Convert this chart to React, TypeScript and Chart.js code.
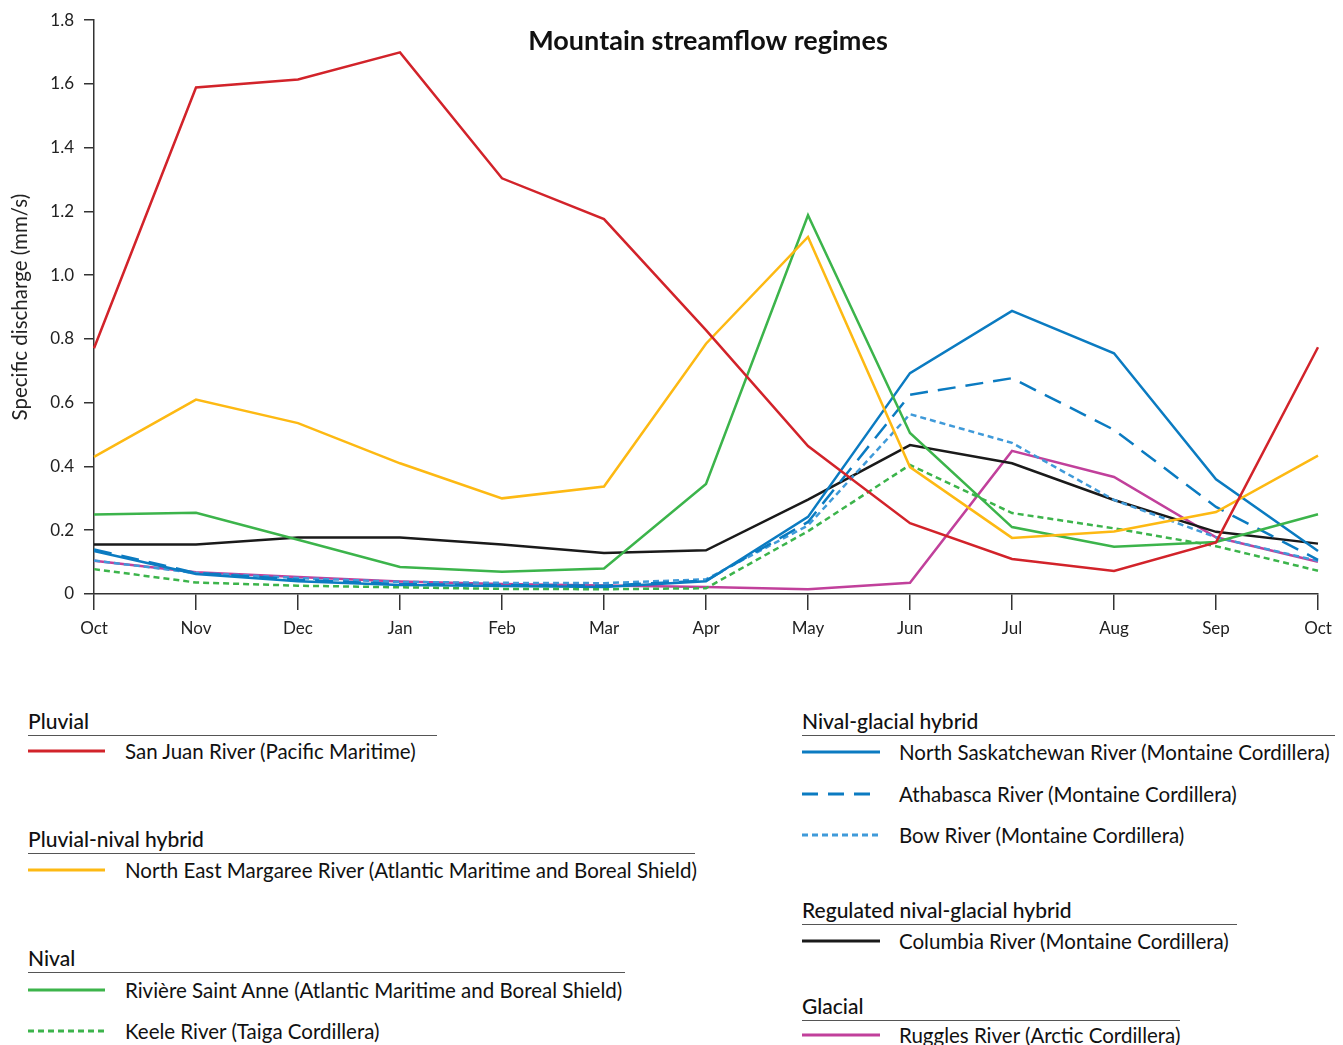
import React, { useEffect, useRef } from "react";
import { Chart, registerables } from "chart.js";
Chart.register(...registerables);

const FONT = "Lato, 'Noto Sans', sans-serif";

const months = ["Oct", "Nov", "Dec", "Jan", "Feb", "Mar", "Apr", "May", "Jun", "Jul", "Aug", "Sep", "Oct"];
const yTicks = [0, 0.2, 0.4, 0.6, 0.8, 1.0, 1.2, 1.4, 1.6, 1.8];

const sanJuan = [0.771, 1.589, 1.614, 1.699, 1.304, 1.176, 0.828, 0.464, 0.222, 0.11, 0.072, 0.162, 0.774];
const margaree = [0.43, 0.61, 0.536, 0.41, 0.3, 0.337, 0.785, 1.12, 0.398, 0.176, 0.196, 0.257, 0.434];
const stAnne = [0.249, 0.255, 0.17, 0.085, 0.07, 0.08, 0.345, 1.188, 0.505, 0.21, 0.148, 0.163, 0.25];
const keele = [0.078, 0.036, 0.026, 0.021, 0.016, 0.015, 0.018, 0.197, 0.405, 0.254, 0.206, 0.15, 0.073];
const northSask = [0.135, 0.063, 0.04, 0.028, 0.025, 0.022, 0.04, 0.242, 0.693, 0.888, 0.755, 0.36, 0.135];
const athabasca = [0.14, 0.066, 0.045, 0.031, 0.028, 0.026, 0.042, 0.226, 0.625, 0.677, 0.515, 0.273, 0.107];
const bow = [0.105, 0.066, 0.05, 0.038, 0.035, 0.034, 0.046, 0.215, 0.564, 0.474, 0.295, 0.178, 0.104];
const columbia = [0.155, 0.155, 0.177, 0.177, 0.155, 0.129, 0.137, 0.296, 0.467, 0.41, 0.295, 0.195, 0.158];
const ruggles = [0.104, 0.068, 0.053, 0.039, 0.031, 0.027, 0.022, 0.015, 0.035, 0.449, 0.367, 0.178, 0.101];

const RED = "#d2232a";
const YELLOW = "#fdb913";
const GREEN = "#3cb44b";
const BLUE = "#0b7bc1";
const LBLUE = "#3f9ad9";
const BLACK = "#1a1a1a";
const MAGENTA = "#c1409b";

const DASHED = [18, 10];
const DOTTED = [6, 4];

const series = [
  { label: "San Juan River (Pacific Maritime)", data: sanJuan, color: RED, dash: [] as number[] },
  { label: "North East Margaree River (Atlantic Maritime and Boreal Shield)", data: margaree, color: YELLOW, dash: [] as number[] },
  { label: "Rivière Saint Anne (Atlantic Maritime and Boreal Shield)", data: stAnne, color: GREEN, dash: [] as number[] },
  { label: "Keele River (Taiga Cordillera)", data: keele, color: GREEN, dash: DOTTED },
  { label: "North Saskatchewan River (Montaine Cordillera)", data: northSask, color: BLUE, dash: [] as number[] },
  { label: "Athabasca River (Montaine Cordillera)", data: athabasca, color: BLUE, dash: DASHED },
  { label: "Bow River (Montaine Cordillera)", data: bow, color: LBLUE, dash: DOTTED },
  { label: "Columbia River (Montaine Cordillera)", data: columbia, color: BLACK, dash: [] as number[] },
  { label: "Ruggles River (Arctic Cordillera)", data: ruggles, color: MAGENTA, dash: [] as number[] },
];

type Group = { header: string; x: number; y: number; underline: number; sampleW: number; textX: number; rows: { idx: number; y: number }[] };

const groups: Group[] = [
  { header: "Pluvial", x: 28, y: 720, underline: 409, sampleW: 77, textX: 125, rows: [{ idx: 0, y: 751 }] },
  { header: "Pluvial-nival hybrid", x: 28, y: 838, underline: 667, sampleW: 77, textX: 125, rows: [{ idx: 1, y: 870 }] },
  { header: "Nival", x: 28, y: 957, underline: 597, sampleW: 77, textX: 125, rows: [{ idx: 2, y: 990 }, { idx: 3, y: 1031 }] },
  { header: "Nival-glacial hybrid", x: 802, y: 720, underline: 533, sampleW: 78, textX: 899, rows: [{ idx: 4, y: 752 }, { idx: 5, y: 794 }, { idx: 6, y: 835 }] },
  { header: "Regulated nival-glacial hybrid", x: 802, y: 909, underline: 435, sampleW: 78, textX: 899, rows: [{ idx: 7, y: 941 }] },
  { header: "Glacial", x: 802, y: 1005, underline: 378, sampleW: 78, textX: 899, rows: [{ idx: 8, y: 1035 }] },
];

const titlePlugin = {
  id: "innerTitle",
  afterDraw(chart: any) {
    const { ctx, chartArea } = chart;
    ctx.save();
    ctx.font = `bold 27px ${FONT}`;
    ctx.fillStyle = "#111";
    ctx.textAlign = "center";
    ctx.textBaseline = "middle";
    ctx.fillText("Mountain streamflow regimes", (chartArea.left + chartArea.right) / 2 + 2, chartArea.top + 21);
    ctx.restore();
  },
};

export default function App() {
  const ref = useRef<HTMLCanvasElement>(null);
  useEffect(() => {
    const chart = new Chart(ref.current!, {
      type: "line",
      data: {
        labels: months,
        datasets: series.map((s) => ({
          label: s.label,
          data: s.data,
          borderColor: s.color,
          backgroundColor: s.color,
          borderDash: s.dash,
          borderWidth: 2.5,
          pointRadius: 0,
          tension: 0,
          fill: false,
        })),
      },
      options: {
        animation: false,
        responsive: false,
        layout: { padding: { left: 0, right: 25, top: 20, bottom: 0 } },
        plugins: { legend: { display: false }, tooltip: { enabled: false }, title: { display: false } },
        scales: {
          x: {
            type: "category",
            offset: false,
            grid: { display: true, drawOnChartArea: false, drawTicks: true, tickLength: 16, tickColor: "#333", lineWidth: 1.5 },
            border: { display: true, color: "#333", width: 1.5 },
            ticks: { padding: 8, font: { family: FONT, size: 17 }, color: "#222", autoSkip: false, maxRotation: 0 },
            afterFit: (s: any) => { s.height = 56; },
          },
          y: {
            min: 0,
            max: 1.8,
            afterBuildTicks: (s: any) => { s.ticks = yTicks.map((v) => ({ value: v })); },
            ticks: {
              padding: 10,
              font: { family: FONT, size: 17 },
              color: "#222",
              callback: (v: any) => (Number(v) === 0 ? "0" : Number(v).toFixed(1)),
            },
            grid: { display: true, drawOnChartArea: false, drawTicks: true, tickLength: 10, tickColor: "#333", lineWidth: 1.5 },
            border: { display: true, color: "#333", width: 1.5 },
            title: { display: true, text: "Specific discharge (mm/s)", font: { family: FONT, size: 20.5 }, color: "#222", padding: { top: 8, bottom: 0 } },
            afterFit: (s: any) => { s.width = 94; },
          },
        },
      },
      plugins: [titlePlugin],
    } as any);
    return () => chart.destroy();
  }, []);

  return (
    <div style={{ position: "absolute", left: 0, top: 0, width: 1343, height: 1045, overflow: "hidden", background: "#fff", fontFamily: FONT, color: "#111" }}>
      <canvas ref={ref} width={1343} height={650} style={{ position: "absolute", left: 0, top: 0, width: 1343, height: 650, display: "block" }} />
      {groups.map((g, gi) => (
        <React.Fragment key={gi}>
          <div style={{ position: "absolute", left: g.x, top: g.y, transform: "translateY(-50%)", fontSize: 21, fontWeight: 500, lineHeight: 1, whiteSpace: "nowrap" }}>{g.header}</div>
          <div style={{ position: "absolute", left: g.x, top: g.y + 15, width: g.underline, height: 0, borderTop: "1.2px solid #555" }} />
          {g.rows.map((r, ri) => {
            const s = series[r.idx];
            return (
              <React.Fragment key={ri}>
                <svg style={{ position: "absolute", left: g.x, top: r.y - 3 }} width={g.sampleW} height={6}>
                  <line x1={0} y1={3} x2={g.sampleW} y2={3} stroke={s.color} strokeWidth={3} strokeDasharray={s.dash.length ? s.dash.map((d) => (d === 18 ? 16 : d)).join(" ") : undefined} />
                </svg>
                <div style={{ position: "absolute", left: g.textX, top: r.y, transform: "translateY(-50%)", fontSize: 20.5, lineHeight: 1, whiteSpace: "nowrap" }}>{s.label}</div>
              </React.Fragment>
            );
          })}
        </React.Fragment>
      ))}
    </div>
  );
}
